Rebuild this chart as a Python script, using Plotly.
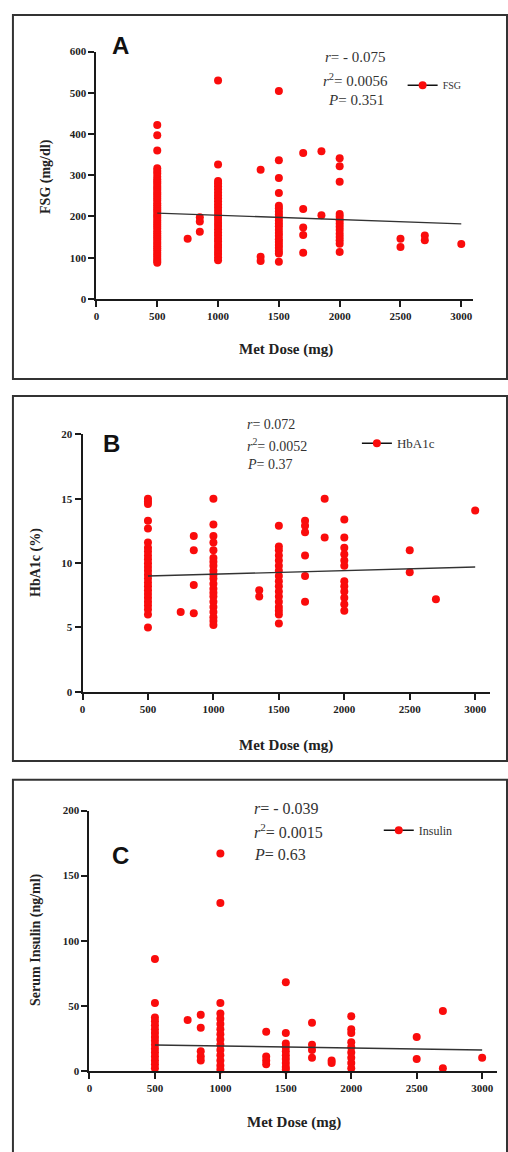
import plotly.graph_objects as go

W, H = 508, 1152

# ---------------- data ----------------
doses = [500, 750, 850, 1000, 1350, 1500, 1700, 1850, 2000, 2500, 2700, 3000]

fsg = [
    [422, 397, 360, 317, 310, 304, 296, 290, 285, 280, 274, 269, 264, 258, 253, 248, 243,
     238, 232, 227, 222, 217, 212, 206, 201, 196, 190, 185, 180, 175, 170, 164, 159, 154,
     149, 144, 138, 133, 128, 123, 118, 112, 107, 102, 97, 92, 88],
    [146],
    [198, 188, 163],
    [530, 326, 286, 280, 273, 266, 258, 251, 244, 237, 229, 222, 214, 206, 199, 192, 184,
     177, 169, 161, 154, 146, 139, 131, 124, 116, 109, 101, 94],
    [313, 102, 92],
    [504, 336, 293, 257, 226, 220, 212, 205, 198, 190, 183, 176, 168, 160, 153, 145, 138,
     131, 124, 116, 110, 90],
    [354, 218, 173, 155, 112],
    [358, 203],
    [341, 322, 284, 206, 199, 191, 183, 175, 167, 158, 150, 142, 134, 114],
    [146, 126],
    [154, 142],
    [133],
]

hba1c = [
    [15.0, 14.8, 14.6, 13.3, 12.7, 11.6, 11.2, 10.9, 10.6, 10.3, 10.0, 9.7, 9.4, 9.1, 8.8,
     8.5, 8.2, 7.9, 7.6, 7.3, 7.0, 6.7, 6.4, 6.0, 5.0],
    [6.2],
    [12.1, 11.0, 8.3, 6.1],
    [15.0, 13.0, 12.1, 11.6, 11.0, 10.4, 10.1, 9.8, 9.4, 9.1, 8.8, 8.4, 8.0, 7.7, 7.4, 7.0,
     6.6, 6.2, 5.8, 5.5, 5.2],
    [7.9, 7.4],
    [12.9, 11.3, 11.0, 10.6, 10.2, 9.8, 9.4, 9.0, 8.6, 8.2, 7.8, 7.4, 7.0, 6.6, 6.3, 6.0, 5.3],
    [13.3, 12.9, 12.4, 10.6, 9.0, 7.0],
    [15.0, 12.0],
    [13.4, 12.0, 11.2, 10.7, 10.2, 9.8, 8.6, 8.2, 7.8, 7.3, 6.8, 6.3],
    [11.0, 9.3],
    [7.2],
    [14.1],
]

insulin = [
    [86, 52, 41, 38, 35, 32, 29, 26, 23, 20, 17, 14, 11, 8, 5, 2],
    [39],
    [43, 33, 15, 11, 8],
    [167, 129, 52, 44, 40, 36, 32, 28, 24, 20, 16, 12, 8, 4, 1],
    [30, 11, 8, 5],
    [68, 29, 21, 18, 15, 12, 9, 6, 3, 1],
    [37, 20, 16, 10],
    [8, 6],
    [42, 32, 29, 22, 18, 14, 10, 6, 2],
    [26, 9],
    [46, 2],
    [10],
]

fit_x = [500, 3000]
fsg_fit = [208, 182]
hba1c_fit = [9.0, 9.7]
insulin_fit = [19.8, 16.0]

x_ticks = [0, 500, 1000, 1500, 2000, 2500, 3000]
fsg_ticks = [0, 100, 200, 300, 400, 500, 600]
hba1c_ticks = [0, 5, 10, 15, 20]
insulin_ticks = [0, 50, 100, 150, 200]

panel_letters = ["A", "B", "C"]
series_names = ["FSG", "HbA1c", "Insulin"]
y_titles = ["FSG (mg/dl)", "HbA1c (%)", "Serum Insulin (ng/ml)"]
x_title = "Met Dose (mg)"
stats = [
    ["<i>r</i>= - 0.075", "<i>r</i><sup>2</sup>= 0.0056", "<i>P</i>= 0.351"],
    ["<i>r</i>= 0.072", "<i>r</i><sup>2</sup>= 0.0052", "<i>P</i>= 0.37"],
    ["<i>r</i>= - 0.039", "<i>r</i><sup>2</sup>= 0.0015", "<i>P</i>= 0.63"],
]

# ---------------- layout helpers (pixels) ----------------
def xp(px):
    return px / W

def yp(px):
    return 1 - px / H

SERIF = "Liberation Serif"
SANS = "Liberation Sans"
RED = "rgb(250,12,12)"
AX = "#1a1a1a"

panels = [
    dict(values=fsg, fit=fsg_fit, yticks=fsg_ticks, yr=[0, 600], xr=[0, 3098],
         x0=94, x1=473, yb=296, yt=46, box=(10, 9, 507, 377),
         letter=(118, 40, 24), ytitle=(43, 172), xtitle=(285, 347),
         stat_x=355, stat_anchor="center", stat_y=[52, 75, 95], stat_size=15,
         leg=(402, 80), leg_size=10),
    dict(values=hba1c, fit=hba1c_fit, yticks=hba1c_ticks, yr=[0, 20], xr=[0, 3114],
         x0=80, x1=490, yb=693, yt=433, box=(10, 394, 507, 763),
         letter=(109, 442, 24), ytitle=(33, 562), xtitle=(285, 747),
         stat_x=243, stat_anchor="left", stat_y=[423, 444, 463], stat_size=14,
         leg=(356, 442), leg_size=13),
    dict(values=insulin, fit=insulin_fit, yticks=insulin_ticks, yr=[0, 200], xr=[0, 3114],
         x0=87, x1=497, yb=1076, yt=813, box=(10, 782, 507, 1160),
         letter=(118, 858, 24), ytitle=(33, 943), xtitle=(293, 1128),
         stat_x=250, stat_anchor="left", stat_y=[811, 834, 857], stat_size=16,
         leg=(378, 833), leg_size=12),
]

fig = go.Figure()
shapes = []
annotations = []
layout = {}

for i, p in enumerate(panels):
    n = "" if i == 0 else str(i + 1)
    xa, ya = "x" + n, "y" + n
    xs, ys = [], []
    for d, vals in zip(doses, p["values"]):
        xs += [d] * len(vals)
        ys += vals
    fig.add_trace(go.Scatter(x=xs, y=ys, xaxis=xa, yaxis=ya, mode="markers",
                             marker=dict(color=RED, size=8), showlegend=False,
                             cliponaxis=False))
    fig.add_trace(go.Scatter(x=fit_x, y=p["fit"], xaxis=xa, yaxis=ya, mode="lines",
                             line=dict(color="#333333", width=1.4), showlegend=False))
    leg_name = "legend" + n
    fig.add_trace(go.Scatter(x=[None], y=[None], xaxis=xa, yaxis=ya, mode="lines+markers",
                             name=series_names[i], legend=leg_name,
                             line=dict(color="#111111", width=1.5),
                             marker=dict(color=RED, size=8)))
    layout[leg_name] = dict(x=xp(p["leg"][0]), y=yp(p["leg"][1]), xanchor="left",
                            yanchor="middle", bgcolor="rgba(0,0,0,0)",
                            font=dict(family=SERIF, size=p["leg_size"], color="#333"))
    tickfont = dict(family=SERIF, size=11, color="#222", weight="bold")
    layout["xaxis" + n] = dict(domain=[xp(p["x0"]), xp(p["x1"])], range=p["xr"],
                               anchor=ya, tickvals=x_ticks, showline=True, linecolor=AX,
                               linewidth=2, ticks="outside", ticklen=6, tickwidth=2,
                               tickcolor=AX, showgrid=False, zeroline=False,
                               tickfont=tickfont)
    layout["yaxis" + n] = dict(domain=[yp(p["yb"]), yp(p["yt"])], range=p["yr"],
                               anchor=xa, tickvals=p["yticks"], showline=True,
                               linecolor=AX, linewidth=2, ticks="outside", ticklen=6,
                               tickwidth=2, tickcolor=AX, showgrid=False, zeroline=False,
                               tickfont=tickfont)
    bx0, by0, bx1, by1 = p["box"]
    shapes.append(dict(type="rect", xref="paper", yref="paper", x0=xp(bx0), x1=xp(bx1),
                       y0=yp(by1), y1=yp(by0), line=dict(color="#333", width=2)))
    lx, ly, ls = p["letter"]
    annotations.append(dict(text=panel_letters[i], x=xp(lx), y=yp(ly), xref="paper",
                            yref="paper", showarrow=False, xanchor="center",
                            yanchor="middle",
                            font=dict(family=SANS, size=ls, color="#111", weight="bold")))
    tx, ty = p["ytitle"]
    annotations.append(dict(text=y_titles[i], x=xp(tx), y=yp(ty), xref="paper",
                            yref="paper", showarrow=False, textangle=-90,
                            xanchor="center", yanchor="middle",
                            font=dict(family=SERIF, size=14, color="#222", weight="bold")))
    tx, ty = p["xtitle"]
    annotations.append(dict(text=x_title, x=xp(tx), y=yp(ty), xref="paper", yref="paper",
                            showarrow=False, xanchor="center", yanchor="middle",
                            font=dict(family=SERIF, size=15, color="#222", weight="bold")))
    for line, sy in zip(stats[i], p["stat_y"]):
        annotations.append(dict(text=line, x=xp(p["stat_x"]), y=yp(sy), xref="paper",
                                yref="paper", showarrow=False,
                                xanchor=p["stat_anchor"], yanchor="middle",
                                font=dict(family=SERIF, size=p["stat_size"],
                                          color="#333")))

fig.update_layout(width=W, height=H, margin=dict(l=0, r=0, t=0, b=0),
                  paper_bgcolor="white", plot_bgcolor="white",
                  shapes=shapes, annotations=annotations, **layout)

fig.write_html("out.html",
               config={"displayModeBar": False},
               post_script="document.body.style.margin='0';"
                           "document.body.style.overflow='hidden';")
